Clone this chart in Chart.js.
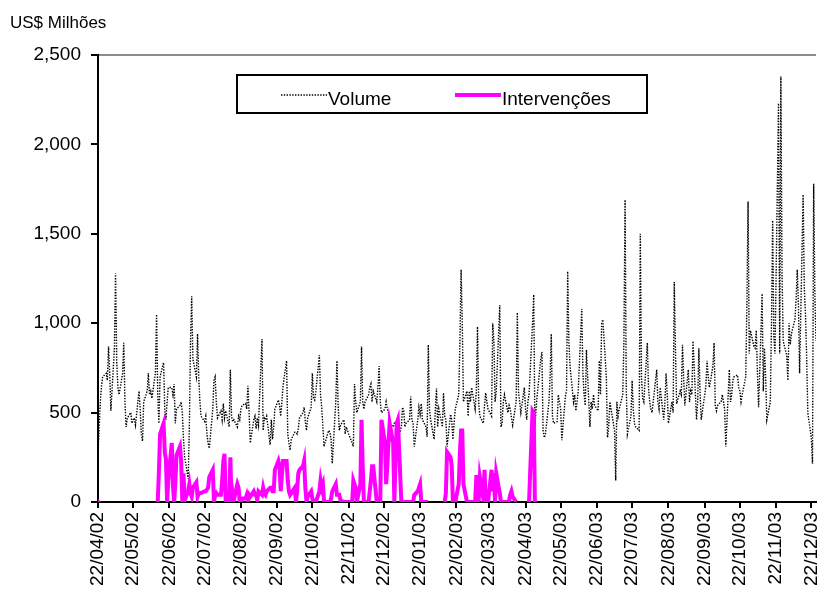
<!DOCTYPE html>
<html>
<head>
<meta charset="utf-8">
<script src="https://cdn.jsdelivr.net/npm/chart.js@4.4.1/dist/chart.umd.min.js"></script>
<style>
  html, body { margin: 0; padding: 0; background: #fff; }
  #wrap { width: 820px; height: 593px; }
</style>
</head>
<body>
<div id="wrap"><canvas id="chart"></canvas></div>
<script>
// Série diária (dias úteis) a partir de 22/04/2002
const startDate = '2002-04-22';
const yTitle = 'US$ Milhões';

const tickLabels = ['22/04/02', '22/05/02', '22/06/02', '22/07/02', '22/08/02', '22/09/02',
    '22/10/02', '22/11/02', '22/12/02', '22/01/03', '22/02/03', '22/03/03', '22/04/03',
    '22/05/03', '22/06/03', '22/07/03', '22/08/03', '22/09/03', '22/10/03', '22/11/03', '22/12/03'];

// Volume (US$ milhões)
const volume = [
    270, 420, 560, 650, 700, 720, 680, 870, 720, 510, 860, 1280, 780, 640, 600, 720, 890, 560, 420, 470,
    500, 440, 460, 470, 430, 620, 520, 380, 340, 560, 620, 720, 600, 620, 580, 720, 1050, 600, 440, 700,
    780, 520, 460, 560, 640, 640, 600, 660, 440, 520, 540, 560, 500, 350, 250, 130, 420, 900, 1150, 800,
    700, 940, 700, 560, 480, 450, 480, 380, 330, 300, 520, 680, 700, 560, 470, 510, 460, 550, 470, 510,
    420, 740, 480, 450, 460, 420, 480, 460, 520, 540, 550, 520, 650, 500, 330, 460, 480, 410, 470, 430,
    910, 400, 470, 460, 480, 320, 460, 350, 420, 520, 570, 540, 480, 560, 650, 790, 380, 330, 290, 350,
    390, 390, 380, 410, 470, 500, 530, 450, 400, 470, 530, 720, 580, 570, 620, 820, 600, 530, 420, 310,
    380, 400, 390, 350, 215, 560, 790, 550, 400, 430, 460, 380, 420, 400, 380, 330, 310, 660, 560, 500,
    560, 870, 560, 520, 560, 600, 640, 660, 560, 620, 560, 640, 760, 560, 500, 520, 560, 520, 500, 440,
    420, 440, 450, 360, 345, 420, 530, 510, 420, 440, 460, 590, 460, 440, 310, 460, 530, 490, 550, 460,
    420, 365, 880, 520, 460, 350, 520, 635, 420, 520, 420, 610, 480, 460, 310, 490, 460, 350, 440, 520,
    600, 900, 1300, 1000, 560, 620, 480, 620, 560, 640, 520, 620, 980, 560, 480, 440, 540, 610, 560, 520,
    480, 1000, 900, 560, 620, 1100, 420, 440, 560, 600, 500, 540, 520, 470, 430, 560, 1060, 620, 560, 500,
    640, 520, 460, 560, 600, 1000, 1160, 420, 520, 600, 800, 840, 400, 360, 380, 560, 700, 940, 480, 440,
    450, 600, 560, 520, 345, 590, 620, 1290, 900, 760, 560, 600, 510, 560, 620, 1080, 720, 600, 540, 850,
    420, 560, 520, 600, 540, 510, 790, 600, 1000, 1020, 700, 360, 420, 560, 520, 400, 120, 560, 480, 520,
    600, 900, 1690, 640, 380, 480, 680, 520, 440, 420, 400, 1500, 700, 580, 560, 890, 640, 560, 520, 500,
    680, 740, 560, 520, 640, 460, 560, 720, 600, 440, 560, 500, 1230, 860, 550, 620, 600, 880, 700, 540,
    740, 560, 620, 600, 900, 460, 560, 860, 620, 460, 600, 650, 790, 700, 640, 760, 890, 540, 510, 540,
    560, 600, 560, 520, 310, 740, 560, 600, 680, 700, 710, 640, 620, 560, 600, 700, 1100, 1680, 830, 960,
    870, 860, 960, 720, 530, 1165, 620, 860, 700, 460, 560, 1000, 1575, 920, 830, 2230, 830, 2380, 1280, 900,
    820, 680, 1000, 880, 940, 1020, 1130, 1300, 1100, 720, 1720, 1200, 1050, 820, 500, 360, 215, 1780, 1170, 900
];

// Intervenções (US$ milhões); null = sem dado, depois do último valor não há mais dados
const intervencoes = [
    0, null, null, null, null, null, null, null, null, null, null, null, null, null, null, null, null, null, null, null,
    null, null, null, null, null, null, null, null, null, null, null, null, null, null, null, null, null, 0, 170, 380,
    440, 280, 240, 0, 120, 330, 90, 0, 100, 260, 310, 230, 0, 160, 10, 60, 100, 50, 30, 80,
    110, 30, 50, 50, 50, 60, 60, 70, 80, 140, 180, 0, 40, 50, 40, 40, 120, 230, 270, 0,
    0, 250, 0, 50, 10, 100, 80, 0, 0, 20, 20, 40, 10, 40, 30, 60, 40, 40, 10, 60,
    40, 80, 50, 40, 60, 80, 80, 60, 60, 180, 230, 200, 60, 150, 230, 230, 120, 60, 40, 50,
    80, 0, 60, 160, 180, 200, 230, 80, 0, 30, 60, 20, 0, 0, 0, 60, 120, 80, 100, 0,
    0, 0, 0, 20, 60, 100, 40, 40, 40, 10, 0, 0, 0, 0, 0, 0, 120, 100, 80, 0,
    100, 460, 200, 0, 0, 0, 60, 120, 200, 200, 0, 0, 0, 0, 460, 330, 100, 200, 330, 440,
    330, 0, 230, 440, 460, 0, 0, 0, 0, 0, 0, 0, 0, 0, 40, 60, 80, 100, 0, 0,
    0, 0, 0, null, null, null, null, null, null, null, null, null, 0, 50, 280, 250, 200, 0, 0, 0,
    100, 280, 400, 400, 100, 0, 0, 0, 0, 0, 0, 140, 140, 0, 140, 20, 180, 0, 0, 0,
    180, 60, 160, 0, 160, 50, 0, 0, 0, 0, 0, 10, 40, 60, 30, 0, null, null, null, null,
    null, null, null, null, 0, 510, 500, 0
];

// dias corridos desde o início para cada dia útil (começa numa segunda-feira)
const dayOffsets = [];
let d = 0;
for (let i = 0; i < volume.length; i++) {
    while (d % 7 > 4) d++;
    dayOffsets.push(d);
    d++;
}

const t0 = Date.parse(startDate + 'T00:00:00Z');
const tickOffsets = tickLabels.map(s => {
    const [dd, mm, yy] = s.split('/').map(Number);
    return Math.round((Date.UTC(2000 + yy, mm - 1, dd) - t0) / 86400000);
});

const toPoints = arr => dayOffsets.map((x, i) => ({ x: x, y: arr[i] === undefined ? null : arr[i] }));

Chart.defaults.font.family = '"Liberation Sans", Arial, sans-serif';
Chart.defaults.color = '#000';

// título do eixo e legenda desenhados no canvas
const extras = {
    id: 'extras',
    afterDraw(chart) {
        const ctx = chart.ctx;
        ctx.save();
        ctx.fillStyle = '#000';
        ctx.font = '17px "Liberation Sans", Arial, sans-serif';
        ctx.textBaseline = 'alphabetic';
        ctx.fillText(yTitle, 10, 28);

        // caixa da legenda
        ctx.fillStyle = '#fff';
        ctx.fillRect(237, 75, 410, 38);
        ctx.strokeStyle = '#000';
        ctx.lineWidth = 2;
        ctx.strokeRect(237, 75, 410, 38);

        const slots = [281, 455];
        chart.data.datasets.forEach((ds, k) => {
            const x = slots[k];
            ctx.beginPath();
            ctx.strokeStyle = ds.borderColor;
            ctx.lineWidth = ds.borderWidth;
            ctx.setLineDash(ds.borderDash || []);
            ctx.moveTo(x, 95);
            ctx.lineTo(x + 46, 95);
            ctx.stroke();
            ctx.setLineDash([]);
            ctx.fillStyle = '#000';
            ctx.font = '19px "Liberation Sans", Arial, sans-serif';
            ctx.fillText(ds.label, x + 47, 105);
        });
        ctx.restore();
    }
};

const ctx = document.getElementById('chart').getContext('2d');
new Chart(ctx, {
    type: 'line',
    data: {
        datasets: [{
            label: 'Volume',
            data: toPoints(volume),
            borderColor: '#000',
            borderWidth: 1.4,
            borderDash: [1.4, 1.4],
            pointRadius: 0,
            tension: 0,
            order: 1
        }, {
            label: 'Intervenções',
            data: toPoints(intervencoes),
            borderColor: '#ff00ff',
            backgroundColor: '#ff00ff',
            borderWidth: 4,
            pointRadius: c => {
                const i = c.dataIndex;
                const a = intervencoes;
                if (a[i] == null) return 0;
                return (a[i - 1] == null && a[i + 1] == null) ? 2.5 : 0;
            },
            pointBorderWidth: 0,
            spanGaps: false,
            tension: 0,
            order: 0
        }]
    },
    options: {
        responsive: true,
        maintainAspectRatio: false,
        animation: false,
        layout: { padding: { top: 55, right: 3, left: 0, bottom: 0 } },
        plugins: {
            legend: { display: false },
            tooltip: { enabled: false }
        },
        scales: {
            x: {
                type: 'linear',
                min: 0,
                max: dayOffsets[dayOffsets.length - 1],
                afterBuildTicks: scale => {
                    scale.ticks = tickOffsets.map(v => ({ value: v }));
                },
                afterFit: scale => {
                    scale.height = 91;
                    scale.paddingLeft = 0;
                    scale.paddingRight = 0;
                },
                ticks: {
                    autoSkip: false,
                    minRotation: 90,
                    maxRotation: 90,
                    padding: 4,
                    font: { size: 19 },
                    callback: (v, i) => tickLabels[i]
                },
                grid: {
                    drawOnChartArea: false,
                    tickLength: 6,
                    color: '#000',
                    lineWidth: 2
                },
                border: { color: '#000', width: 2 }
            },
            y: {
                min: 0,
                max: 2500,
                afterFit: scale => {
                    scale.width = 98;
                    scale.paddingTop = 0;
                    scale.paddingBottom = 0;
                },
                ticks: {
                    stepSize: 500,
                    padding: 10,
                    font: { size: 19 },
                    callback: v => v.toLocaleString('en-US')
                },
                grid: {
                    color: c => (c.tick && c.tick.value === 2500) ? '#8c8c8c' : 'rgba(0,0,0,0)',
                    lineWidth: 2,
                    tickColor: '#000',
                    tickLength: 7
                },
                border: { color: '#000', width: 2 }
            }
        }
    },
    plugins: [extras]
});
</script>
</body>
</html>
